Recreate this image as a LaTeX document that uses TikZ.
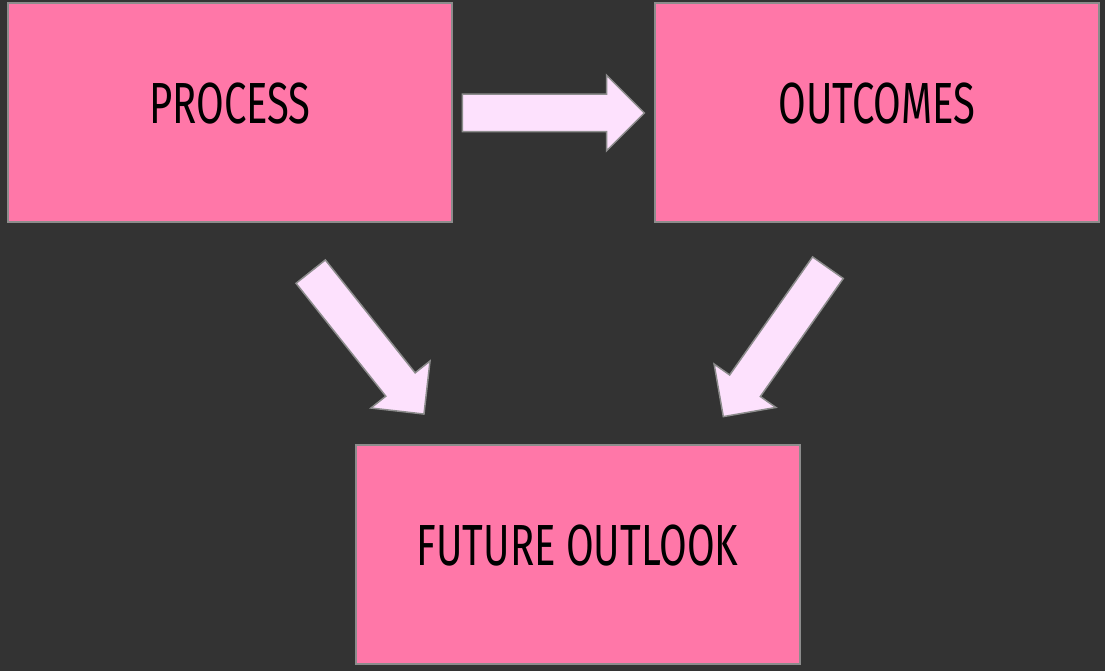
\documentclass[tikz,border=0pt]{standalone}
\usepackage{fontspec}
\setmainfont{Fira Sans}[FakeStretch=0.69]
\usetikzlibrary{shapes.arrows}

\definecolor{bgdark}{HTML}{333333}
\definecolor{boxpink}{HTML}{FF77A8}
\definecolor{boxedge}{HTML}{8C8C8C}
\definecolor{arrowfill}{HTML}{FDE1FD}

\tikzset{
  topic/.style={draw=boxedge, line width=2pt, fill=boxpink,
    minimum width=444pt, minimum height=219pt, inner sep=0pt,
    font=\fontsize{58}{60}\selectfont, text depth=18pt},
  flow/.style={single arrow, draw=boxedge, line width=1.5pt, fill=arrowfill,
    minimum height=182pt, text height=18pt, text depth=18pt,
    single arrow head extend=19pt, inner sep=0pt}
}

\begin{document}
\begin{tikzpicture}[x=1pt,y=-1pt]
  % Background
  \fill[bgdark] (0,0) rectangle (1105,671);

  % Boxes
  \foreach \name/\x/\y/\txt in {proc/230/112.5/PROCESS,outc/877/112.5/OUTCOMES,outl/577.5/554.5/FUTURE OUTLOOK}
  \node[topic] (\name) at (\x,\y) {\txt};

  % Block arrows between the boxes
  \foreach \name/\x/\y/\ang in {proc2outc/544/113/0,proc2outl/361.5/335.5/-51.5,outc2outl/781/334.5/-125.1}
  \node[flow, rotate=\ang] (\name) at (\x,\y) {};
\end{tikzpicture}
\end{document}
